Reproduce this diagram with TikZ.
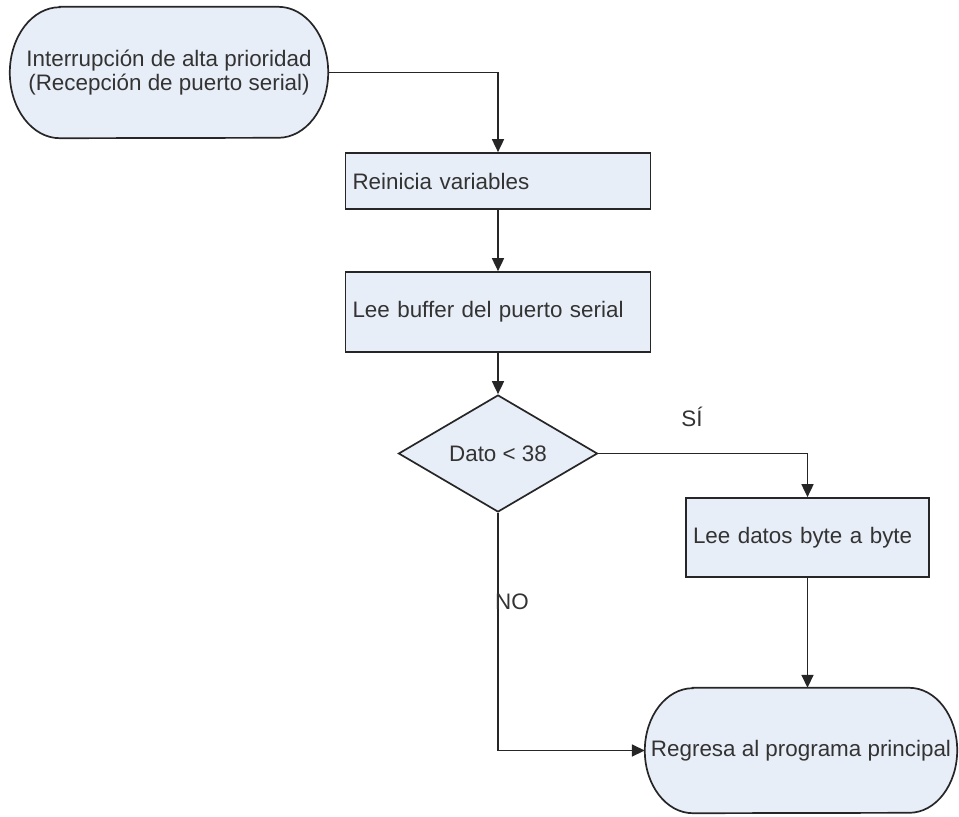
\documentclass[tikz,border=0pt]{standalone}
\usepackage{fontspec}
\setmainfont{Liberation Sans}
\usetikzlibrary{arrows.meta,shapes.geometric,backgrounds,calc}
\definecolor{boxfill}{HTML}{E8EEF8}
\definecolor{linegray}{HTML}{262626}
\definecolor{textgray}{HTML}{333333}
% stadium outline with elliptical ends, drawn around a named node
\newcommand\termoutline[3]{%
  \draw[termline] ($(#1.north west)+(#2,0)$) -- ($(#1.north east)+(-#2,0)$)
    arc[start angle=90,end angle=-90,x radius=#2pt,y radius=#3pt]
    -- ($(#1.south west)+(#2,0)$)
    arc[start angle=270,end angle=90,x radius=#2pt,y radius=#3pt] -- cycle;}
\begin{document}
\begin{tikzpicture}[x=1pt,y=-1pt,
  font=\fontsize{22.4}{24}\selectfont, text=textgray,
  every node/.style={inner sep=0pt},
  proc/.style={rectangle, draw=linegray, line width=1.7pt, fill=boxfill,
    align=left, inner xsep=7pt},
  decision/.style={diamond, draw=linegray, line width=1.7pt, fill=boxfill,
    inner sep=0pt, minimum width=199pt, minimum height=117pt},
  termbox/.style={rectangle, align=center},
  termline/.style={draw=linegray, line width=1.7pt, fill=boxfill},
  flow/.style={draw=linegray, line width=1.7pt,
    -{Triangle[length=13pt,width=12pt]}},
  lbl/.style={text=textgray}]
\useasboundingbox (0,0) rectangle (959,817);

% terminals
\node[termbox, minimum width=318pt, minimum height=131pt] (t1) at (169,72.5)
  {Interrupción de alta prioridad\\(Recepción de puerto serial)};
\node[termbox, minimum width=312pt, minimum height=125pt] (t2) at (801,750.5)
  {Regresa al programa principal};

% process steps
\node[proc, text width=291pt, minimum height=56pt] (r1) at (498,181)
  {Reinicia variables};
\node[proc, text width=291pt, minimum height=80pt] (r2) at (498,312)
  {Lee buffer del puerto serial};
\node[proc, text width=229pt, minimum height=79pt] (r3) at (807.5,537.5)
  {Lee datos byte a byte};

% decision
\node[decision] (d1) at (498,453.5) {Dato < 38};

% terminal outlines behind their text
\begin{scope}[on background layer]
  \termoutline{t1}{50}{65.5}
  \termoutline{t2}{48}{62.5}
\end{scope}

% connectors
\draw[flow] (t1.east) -| (r1.north);
\draw[flow] (r1.south) -- (r2.north);
\draw[flow] (r2.south) -- (d1.north);
\draw[flow] (d1.east) -| (r3.north);
\draw[flow] (r3.south) -- (r3.south |- t2.north);
\draw[flow] (d1.south) |- (t2.west);

% branch labels
\node[lbl] (si) at (692,417) {SÍ};
\node[lbl] (no) at (512,602) {NO};
\end{tikzpicture}
\end{document}
